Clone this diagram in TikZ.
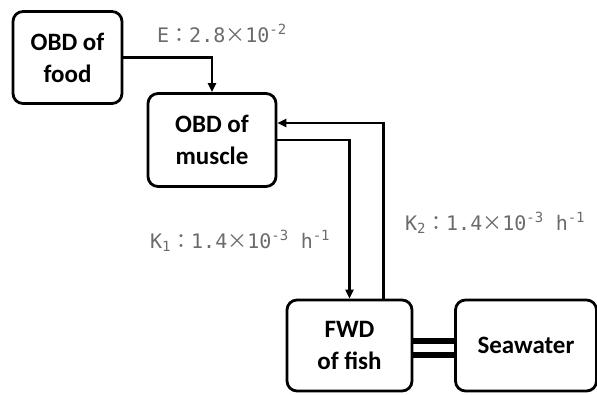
\documentclass[tikz,border=0pt]{standalone}
\usepackage{fontspec}
\setmainfont{Carlito}
\newfontfamily\jp{Noto Sans CJK JP}
\newfontfamily\mono{DejaVu Sans Mono}
\usetikzlibrary{arrows.meta}
\newcommand{\wcolon}{{\jp ：}}
\newcommand{\wtimes}{{\jp ×}}
\begin{document}
\begin{tikzpicture}[x=1pt,y=-1pt,
  box/.style={draw,line width=2.8pt,rounded corners=10pt,align=center,
    font=\fontsize{25}{32}\selectfont\bfseries,inner sep=0pt},
  flow/.style={line width=2.8pt,-{Triangle[length=9pt,width=8pt]}},
  rate/.style={text=black!58,font=\mono\fontsize{20}{22}\selectfont,anchor=base west,inner sep=0pt}]
\useasboundingbox (0,0) rectangle (597,394);
\node[box,minimum width=109pt,minimum height=92pt] (food) at (67.5,57.5) {OBD of\\food};
\node[box,minimum width=128pt,minimum height=93pt] (muscle) at (212,140) {OBD of\\muscle};
\node[box,minimum width=125pt,minimum height=91pt] (fwd) at (349.5,345.5) {FWD\\of fish};
\node[box,minimum width=141pt,minimum height=91pt] (sea) at (526,345.5) {Seawater};
\draw[flow] (food.east) -| (muscle.north);
\draw[flow] (muscle.east) -| (fwd.north);
\draw[flow] ([xshift=34pt]fwd.north) |- ([yshift=17pt]muscle.east);
\draw[line width=6pt] ([yshift=5pt]fwd.east) -- ([yshift=5pt]sea.west);
\draw[line width=6pt] ([yshift=-9pt]fwd.east) -- ([yshift=-9pt]sea.west);
\node[rate] (e) at (157,42) {E\wcolon2.8\wtimes10\textsuperscript{-2}};
\node[rate] (k1) at (150,248) {K\textsubscript{1}\wcolon1.4\wtimes10\textsuperscript{-3} h\textsuperscript{-1}};
\node[rate] (k2) at (405,230) {K\textsubscript{2}\wcolon1.4\wtimes10\textsuperscript{-3} h\textsuperscript{-1}};
\end{tikzpicture}
\end{document}
